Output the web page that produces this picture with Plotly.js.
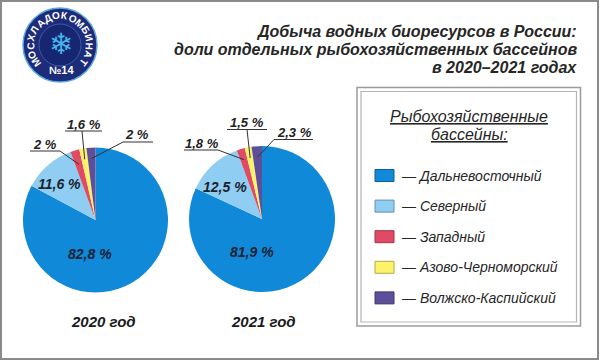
<!DOCTYPE html>
<html><head><meta charset="utf-8">
<script src="https://cdn.plot.ly/plotly-3.0.1.min.js"></script>
<style>html,body{margin:0;padding:0;background:#fff}#chart{width:600px;height:361px}</style>
</head><body><div id="chart"></div>
<script>
// ---------- data ----------
const basins = ['Дальневосточный', 'Северный', 'Западный', 'Азово-Черноморский', 'Волжско-Каспийский'];
const basinColors = ['#1089d8', '#8fcdf2', '#e04a64', '#fdf36b', '#5e4f9b'];
const yearLabels = ['2020 год', '2021 год'];
const values2020 = [82.8, 11.6, 2, 1.6, 2];
const values2021 = [81.9, 12.5, 1.8, 1.5, 2.3];
const titleLines = ['Добыча водных биоресурсов в России:', 'доли отдельных рыбохозяйственных бассейнов', 'в 2020–2021 годах'];
const legendTitleLines = ['Рыбохозяйственные', 'бассейны:'];
const logoArcText = 'МОСХЛАДОКОМБИНАТ';
const logoNumber = '№14';

// ---------- geometry (pixels) ----------
const W = 600, H = 361;
const X = p => p / W, Y = p => 1 - p / H;
const pieGeom = [{cx: 95.5, cy: 220, r: 72.5}, {cx: 262, cy: 219, r: 73}];
const yearPos = [{x: 103, y: 321}, {x: 263, y: 321}];
// inner labels (slice index -> text centre)
const innerPos = [
  [{i: 0, x: 90, y: 254}, {i: 1, x: 59, y: 184}],
  [{i: 0, x: 252, y: 252}, {i: 1, x: 225, y: 187}]
];
// outer labels with underline + leader
const outerPos = [
  [{i: 2, tx: 45, ty: 144, u0: 30, u1: 60, uy: 151, lx: 60, rr: 0.8},
   {i: 3, tx: 83.5, ty: 124, u0: 65, u1: 102, uy: 131, lx: 82, rr: 0.85},
   {i: 4, tx: 137, ty: 134.5, u0: 123, u1: 153, uy: 142, lx: 123, rr: 0.85}],
  [{i: 2, tx: 201.5, ty: 143, u0: 184, u1: 218, uy: 150, lx: 218, rr: 0.85},
   {i: 3, tx: 246.5, ty: 122, u0: 227, u1: 267, uy: 129.5, lx: 247, rr: 0.85},
   {i: 4, tx: 294, ty: 132.5, u0: 274, u1: 313, uy: 139.5, lx: 274, rr: 0.85}]
];

const fmt = v => String(v).replace('.', ',') + ' %';
const FONT = 'Liberation Sans, Arial, sans-serif';
const allValues = [values2020, values2021];

const traces = allValues.map((vals, k) => {
  const g = pieGeom[k];
  return {
    type: 'pie', values: vals, labels: basins, sort: false, direction: 'clockwise', rotation: 0,
    marker: {colors: basinColors, line: {width: 0}},
    textinfo: 'none', hoverinfo: 'label+percent', showlegend: false,
    domain: {x: [X(g.cx - g.r), X(g.cx + g.r)], y: [Y(g.cy + g.r), Y(g.cy - g.r)]}
  };
});

const annotations = [];
const shapes = [];

// frame
shapes.push({type: 'rect', xref: 'paper', yref: 'paper', x0: X(1), x1: X(598), y0: Y(359), y1: Y(1),
  line: {color: '#8a8a8a', width: 2}});

// title
const titleY = [31.5, 49.5, 67];
titleLines.forEach((t, j) => annotations.push({
  text: '<b><i>' + t + '</i></b>', xref: 'paper', yref: 'paper', x: X(579), y: Y(titleY[j]),
  xanchor: 'right', yanchor: 'middle', showarrow: false, font: {family: FONT, size: 16, color: '#262626'}
}));

// pie labels
allValues.forEach((vals, k) => {
  const g = pieGeom[k];
  const total = vals.reduce((a, b) => a + b, 0);
  const cum = [];
  let s = 0;
  vals.forEach(v => { cum.push(s + v / 2); s += v; });
  innerPos[k].forEach(p => annotations.push({
    text: '<b><i>' + fmt(vals[p.i]) + '</i></b>', xref: 'paper', yref: 'paper', x: X(p.x), y: Y(p.y),
    xanchor: 'center', yanchor: 'middle', showarrow: false, font: {family: FONT, size: 14, color: '#1b2230'}
  }));
  outerPos[k].forEach(p => {
    annotations.push({
      text: '<b><i>' + fmt(vals[p.i]) + '</i></b>', xref: 'paper', yref: 'paper', x: X(p.tx), y: Y(p.ty),
      xanchor: 'center', yanchor: 'middle', showarrow: false, font: {family: FONT, size: 13, color: '#222'}
    });
    shapes.push({type: 'line', xref: 'paper', yref: 'paper', x0: X(p.u0), x1: X(p.u1), y0: Y(p.uy), y1: Y(p.uy),
      line: {color: '#333', width: 1}});
    const th = cum[p.i] / total * 2 * Math.PI;
    const ex = g.cx + g.r * p.rr * Math.sin(th), ey = g.cy - g.r * p.rr * Math.cos(th);
    shapes.push({type: 'line', xref: 'paper', yref: 'paper', x0: X(p.lx), x1: X(ex), y0: Y(p.uy), y1: Y(ey),
      line: {color: '#333', width: 1}});
  });
  annotations.push({
    text: '<b><i>' + yearLabels[k] + '</i></b>', xref: 'paper', yref: 'paper', x: X(yearPos[k].x), y: Y(yearPos[k].y),
    xanchor: 'center', yanchor: 'middle', showarrow: false, font: {family: FONT, size: 15, color: '#1a1a1a'}
  });
});

// legend box
shapes.push({type: 'rect', xref: 'paper', yref: 'paper', x0: X(357), x1: X(580.5), y0: Y(326), y1: Y(87.5),
  line: {color: '#9a9a9a', width: 1.5}});
shapes.push({type: 'rect', xref: 'paper', yref: 'paper', x0: X(361), x1: X(576.5), y0: Y(322), y1: Y(91.5),
  line: {color: '#b5b5b5', width: 1.2}});
const ltY = [116.5, 134];
legendTitleLines.forEach((t, j) => annotations.push({
  text: '<i><u>' + t + '</u></i>', xref: 'paper', yref: 'paper', x: X(469), y: Y(ltY[j]),
  xanchor: 'center', yanchor: 'middle', showarrow: false, font: {family: FONT, size: 16, color: '#262626'}
}));
const darker = c => {
  const n = parseInt(c.slice(1), 16);
  const f = v => Math.round(v * 0.7);
  return 'rgb(' + f(n >> 16) + ',' + f((n >> 8) & 255) + ',' + f(n & 255) + ')';
};
basins.forEach((b, j) => {
  const yc = 175.5 + j * 30.6;
  shapes.push({type: 'rect', xref: 'paper', yref: 'paper', x0: X(375), x1: X(394), y0: Y(yc + 6), y1: Y(yc - 6),
    fillcolor: basinColors[j], line: {color: darker(basinColors[j]), width: 1}});
  annotations.push({
    text: '<i>— ' + b + '</i>', xref: 'paper', yref: 'paper', x: X(399), y: Y(yc),
    xanchor: 'left', yanchor: 'middle', showarrow: false, font: {family: FONT, size: 14, color: '#262626'}
  });
});

// logo
const L = {cx: 60, cy: 45, r: 37, ri: 21, rt: 29.5};
const circ = (r, fill, lc, lw) => shapes.push({type: 'circle', xref: 'paper', yref: 'paper',
  x0: X(L.cx - r), x1: X(L.cx + r), y0: Y(L.cy + r), y1: Y(L.cy - r), fillcolor: fill, line: {color: lc, width: lw}});
circ(L.r, '#1d2c7a', '#5aa7e0', 1.5);
circ(L.ri, '#172670', '#3c5aa8', 1);
annotations.push({text: '❄', xref: 'paper', yref: 'paper', x: X(L.cx + 1), y: Y(L.cy - 1), xanchor: 'center', yanchor: 'middle',
  showarrow: false, font: {family: 'DejaVu Sans', size: 29, color: '#45b6ec'}});
const n = logoArcText.length, a0 = 234, a1 = 486;
logoArcText.split('').forEach((ch, j) => {
  const a = a0 + (a1 - a0) * j / (n - 1);
  const rad = a * Math.PI / 180;
  let ta = a % 360; if (ta > 180) ta -= 360;
  annotations.push({text: '<b>' + ch + '</b>', xref: 'paper', yref: 'paper',
    x: X(L.cx + L.rt * Math.sin(rad)), y: Y(L.cy - L.rt * Math.cos(rad)), xanchor: 'center', yanchor: 'middle',
    textangle: ta, showarrow: false, font: {family: FONT, size: 10, color: '#ffffff'}});
});
annotations.push({text: '<b>' + logoNumber + '</b>', xref: 'paper', yref: 'paper', x: X(61), y: Y(70),
  xanchor: 'center', yanchor: 'middle', showarrow: false, font: {family: FONT, size: 11, color: '#ffffff'}});

const layout = {
  width: W, height: H, margin: {l: 0, r: 0, t: 0, b: 0}, paper_bgcolor: '#ffffff', plot_bgcolor: '#ffffff',
  showlegend: false, annotations, shapes, font: {family: FONT}
};
Plotly.newPlot('chart', traces, layout, {displayModeBar: false, staticPlot: true});
</script></body></html>
